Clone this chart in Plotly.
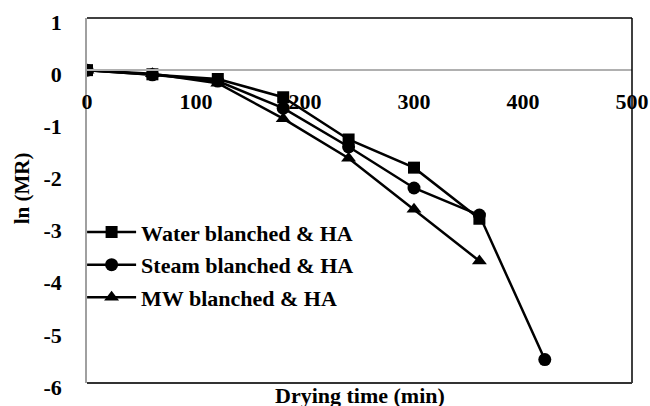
import plotly.graph_objects as go

time = [0, 60, 120, 180, 240, 300, 360, 420]
water = [0.0, -0.08, -0.17, -0.52, -1.33, -1.87, -2.85]
steam = [0.0, -0.09, -0.21, -0.73, -1.47, -2.26, -2.78, -5.55]
mw = [0.0, -0.07, -0.25, -0.93, -1.69, -2.67, -3.66]
names = ["Water blanched & HA", "Steam blanched & HA", "MW blanched & HA"]
x_ticks = [0, 100, 200, 300, 400, 500]
y_ticks = [1, 0, -1, -2, -3, -4, -5, -6]
y_ticktext = [str(v) for v in y_ticks]  # ASCII hyphen-minus as in the reference

FONT = "Liberation Serif, Times New Roman, serif"
FS = 22

fig = go.Figure()
series = [(water, "square", 12), (steam, "circle", 13), (mw, "triangle-up", 13)]
for i, (vals, sym, sz) in enumerate(series):
    fig.add_trace(go.Scatter(
        x=time[:len(vals)], y=vals, mode="lines+markers", name=names[i],
        legendgroup=f"g{i}",
        line=dict(color="black", width=2.5),
        marker=dict(symbol=sym, size=sz, color="black"),
    ))

fig.update_layout(
    width=650, height=406,
    margin=dict(l=87, r=18, t=18, b=23),
    paper_bgcolor="white", plot_bgcolor="white",
    font=dict(family=FONT, color="black"),
    showlegend=True,
    legend=dict(
        x=-0.009, y=0.4705, xanchor="left", yanchor="top",
        bgcolor="rgba(0,0,0,0)",
        font=dict(family=FONT, size=FS, color="black", weight="bold"),
        tracegroupgap=1, itemwidth=49,
    ),
    xaxis=dict(
        range=[0, 500], tickvals=x_ticks,
        anchor="free", position=6/7, automargin=False,
        showline=True, linecolor="#b0b0b0", linewidth=1.5,
        showgrid=False, zeroline=False,
        ticks="outside", ticklen=12, tickcolor="rgba(0,0,0,0)",
        tickfont=dict(family=FONT, size=FS, color="black", weight="bold"),
    ),
    yaxis=dict(
        range=[-6, 1], tickvals=y_ticks, ticktext=y_ticktext,
        automargin=False,
        showline=True, linecolor="#a0a0a0", linewidth=1.5,
        showgrid=False, zeroline=False,
        ticks="outside", ticklen=19, tickcolor="rgba(0,0,0,0)",
        ticklabelshift=4,
        tickfont=dict(family=FONT, size=FS, color="black", weight="bold"),
    ),
    shapes=[
        dict(type="line", xref="paper", yref="paper", x0=0, x1=1, y0=1, y1=1,
             line=dict(color="black", width=1.5)),
        dict(type="line", xref="paper", yref="paper", x0=1, x1=1, y0=0, y1=1,
             line=dict(color="black", width=1.5)),
        dict(type="line", xref="paper", yref="paper", x0=0, x1=1, y0=0, y1=0,
             line=dict(color="#333333", width=2)),
    ],
    annotations=[
        dict(text="<b>Drying time (min)</b>", xref="paper", yref="paper",
             x=0.5, y=-0.035, xanchor="center", yanchor="middle",
             showarrow=False, font=dict(family=FONT, size=FS, color="black")),
        dict(text="<b>ln (MR)</b>", xref="paper", yref="paper",
             x=-0.119, y=0.534, xanchor="center", yanchor="middle", textangle=-90,
             showarrow=False, font=dict(family=FONT, size=FS - 1, color="black")),
    ],
)

fig.write_html("out.html")
